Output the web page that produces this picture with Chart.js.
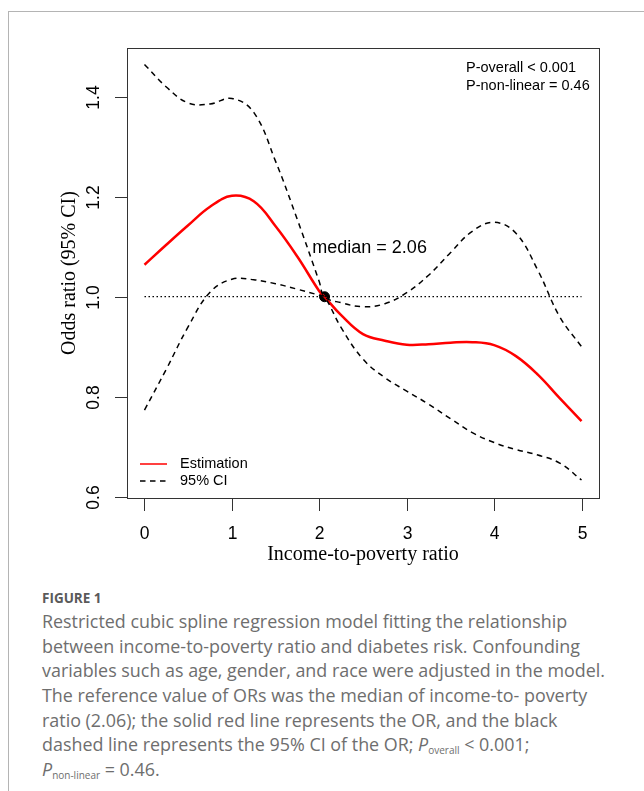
<!DOCTYPE html>
<html>
<head>
<meta charset="utf-8">
<script src="https://cdn.jsdelivr.net/npm/chart.js@4.4.1/dist/chart.umd.min.js"></script>
<style>
  body { margin: 0; background: #fff; width: 644px; height: 791px; overflow: hidden; position: relative; }
  .frame { position: absolute; left: 8px; top: 11px; width: 640px; height: 790px; border-top: 1px solid #b4b4b4; border-left: 1px solid #b4b4b4; }
  #chart { position: absolute; left: 0; top: 0; }
  .caption { position: absolute; left: 42px; top: 588px; font-family: 'Open Sans', Lato, sans-serif; color: #6e6e6e; white-space: nowrap; }
  .caption .fig { font-size: 13.5px; font-weight: bold; color: #5a5a5a; height: 21px; line-height: 21px; }
  .caption .ln { font-size: 17.9px; height: 24.7px; line-height: 24.7px; }
  .caption sub { font-size: 10px; vertical-align: -3px; }
</style>
</head>
<body>
<div class="frame"></div>
<canvas id="chart" width="644" height="570"></canvas>
<div class="caption">
  <div class="fig">FIGURE 1</div>
  <div class="ln">Restricted cubic spline regression model fitting the relationship</div>
  <div class="ln">between income-to-poverty ratio and diabetes risk. Confounding</div>
  <div class="ln">variables such as age, gender, and race were adjusted in the model.</div>
  <div class="ln">The reference value of ORs was the median of income-to- poverty</div>
  <div class="ln">ratio (2.06); the solid red line represents the OR, and the black</div>
  <div class="ln">dashed line represents the 95% CI of the OR; <i>P</i><sub>overall</sub> &lt; 0.001;</div>
  <div class="ln"><i>P</i><sub>non-linear</sub> = 0.46.</div>
</div>
<script>
// values
const xGrid = [0, 0.25, 0.5, 0.75, 1, 1.25, 1.5, 1.75, 2, 2.06, 2.25, 2.5, 2.75, 3, 3.25, 3.5, 3.75, 4, 4.25, 4.5, 4.75, 5];
const estimation = [1.064, 1.104, 1.143, 1.18, 1.202, 1.191, 1.141, 1.08, 1.011, 1.0, 0.963, 0.925, 0.912, 0.904, 0.905, 0.908, 0.909, 0.903, 0.881, 0.844, 0.797, 0.751];
const ciUpper = [1.465, 1.42, 1.388, 1.386, 1.397, 1.369, 1.271, 1.154, 1.03, 1.0, 0.988, 0.98, 0.986, 1.008, 1.043, 1.088, 1.131, 1.149, 1.127, 1.053, 0.96, 0.9];
const ciLower = [0.773, 0.855, 0.94, 1.009, 1.035, 1.034, 1.026, 1.015, 1.003, 1.0, 0.938, 0.875, 0.838, 0.811, 0.785, 0.756, 0.728, 0.708, 0.694, 0.683, 0.667, 0.633];

const refX = [0, 5];
const refY = [1, 1];
const medianX = [2.06];
const medianY = [1.0];

const xTicks = [0, 1, 2, 3, 4, 5];
const yTicks = [0.6, 0.8, 1.0, 1.2, 1.4];
const yTickLabels = ['0.6', '0.8', '1.0', '1.2', '1.4'];

const xTitle = 'Income-to-poverty ratio';
const yTitle = 'Odds ratio (95% CI)';
const medianLabel = 'median = 2.06';
const pLabels = ['P-overall < 0.001', 'P-non-linear = 0.46'];
const legendLabels = ['Estimation', '95% CI'];

const toPoints = (xs, ys) => xs.map((v, i) => ({ x: v, y: ys[i] }));

const sans = 'Liberation Sans, Arial, sans-serif';
const serif = 'Liberation Serif, Times New Roman, serif';
const dash = [5.5, 4.5];

// R-style box, ticks, labels and legend
const rDecor = {
  id: 'rDecor',
  afterDatasetsDraw(chart) {
    const { ctx, chartArea: { left, top, right, bottom }, scales: { x, y } } = chart;
    ctx.save();
    ctx.strokeStyle = '#333';
    ctx.fillStyle = '#000';
    ctx.lineWidth = 1;
    ctx.setLineDash([]);
    ctx.strokeRect(left + 0.5, top + 0.5, right - left, bottom - top);

    // x axis
    ctx.font = '17.5px ' + sans;
    ctx.textAlign = 'center';
    ctx.textBaseline = 'alphabetic';
    xTicks.forEach((v) => {
      const px = Math.round(x.getPixelForValue(v)) + 0.5;
      ctx.beginPath();
      ctx.moveTo(px, bottom + 1);
      ctx.lineTo(px, bottom + 13);
      ctx.stroke();
      ctx.fillText(String(v), px, 539);
    });
    ctx.font = '20px ' + serif;
    ctx.fillText(xTitle, (left + right) / 2, 560);

    // y axis
    ctx.font = '17.5px ' + sans;
    yTicks.forEach((v, i) => {
      const py = Math.round(y.getPixelForValue(v)) + 0.5;
      ctx.beginPath();
      ctx.moveTo(left - 12, py);
      ctx.lineTo(left, py);
      ctx.stroke();
      ctx.save();
      ctx.translate(99, py);
      ctx.rotate(-Math.PI / 2);
      ctx.fillText(yTickLabels[i], 0, 0);
      ctx.restore();
    });
    ctx.save();
    ctx.font = '20px ' + serif;
    ctx.translate(75, (top + bottom) / 2);
    ctx.rotate(-Math.PI / 2);
    ctx.fillText(yTitle, 0, 0);
    ctx.restore();

    // annotations
    ctx.textAlign = 'left';
    ctx.textBaseline = 'middle';
    ctx.font = '18px ' + sans;
    ctx.fillText(medianLabel, x.getPixelForValue(1.92), y.getPixelForValue(1.1) + 1);
    ctx.font = '14.5px ' + sans;
    ctx.fillText(pLabels[0], right - 133, top + 20);
    ctx.fillText(pLabels[1], right - 133, top + 37.5);

    // legend
    const ly1 = bottom - 34, ly2 = bottom - 17;
    ctx.strokeStyle = '#ff0000';
    ctx.lineWidth = 1.5;
    ctx.beginPath();
    ctx.moveTo(left + 13, ly1);
    ctx.lineTo(left + 40, ly1);
    ctx.stroke();
    ctx.strokeStyle = '#000';
    ctx.setLineDash(dash);
    ctx.beginPath();
    ctx.moveTo(left + 13, ly2);
    ctx.lineTo(left + 40, ly2);
    ctx.stroke();
    ctx.fillText(legendLabels[0], left + 53, ly1);
    ctx.fillText(legendLabels[1], left + 53, ly2);
    ctx.restore();
  },
};

new Chart(document.getElementById('chart'), {
  type: 'line',
  data: {
    datasets: [
      {
        data: toPoints(refX, refY),
        borderColor: '#000',
        borderWidth: 1.3,
        borderDash: [1.5, 2.5],
        pointRadius: 0,
      },
      {
        data: toPoints(xGrid, ciUpper),
        borderColor: '#000',
        borderWidth: 1.5,
        borderDash: dash,
        pointRadius: 0,
        tension: 0.4,
      },
      {
        data: toPoints(xGrid, ciLower),
        borderColor: '#000',
        borderWidth: 1.5,
        borderDash: dash,
        pointRadius: 0,
        tension: 0.4,
      },
      {
        data: toPoints(xGrid, estimation),
        borderColor: '#ff0000',
        borderWidth: 2.5,
        pointRadius: 0,
        tension: 0.4,
      },
      {
        data: toPoints(medianX, medianY),
        showLine: false,
        pointRadius: 5,
        pointBackgroundColor: '#000',
        pointBorderColor: '#000',
      },
    ],
  },
  plugins: [rDecor],
  options: {
    responsive: false,
    animation: false,
    devicePixelRatio: 1,
    layout: { padding: { left: 127, top: 48, right: 45, bottom: 72 } },
    plugins: {
      legend: { display: false },
      tooltip: { enabled: false },
    },
    scales: {
      x: { type: 'linear', min: -0.2, max: 5.2, display: false },
      y: { type: 'linear', min: 0.597, max: 1.498, display: false },
    },
  },
});
</script>
</body>
</html>
